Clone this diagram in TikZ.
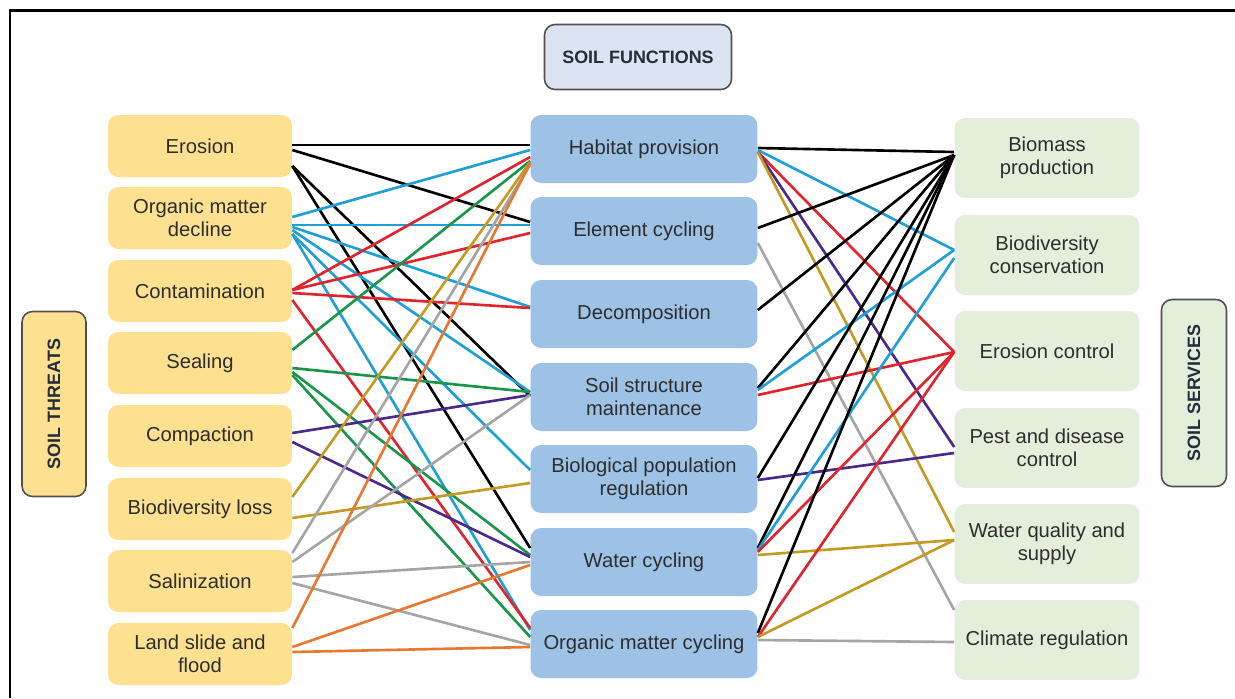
\documentclass[tikz,border=0pt]{standalone}
\usepackage{fontspec}
\setmainfont{Liberation Sans}

\definecolor{threatfill}{RGB}{253,225,145}
\definecolor{funcfill}{RGB}{157,194,230}
\definecolor{servfill}{RGB}{227,239,219}
\definecolor{headfill}{RGB}{220,228,242}
\definecolor{headdraw}{RGB}{80,80,80}
\definecolor{headtext}{RGB}{35,45,62}
\definecolor{boxtext}{RGB}{45,45,45}
\definecolor{lncyan}{RGB}{30,160,215}
\definecolor{lnred}{RGB}{225,35,45}
\definecolor{lngreen}{RGB}{25,150,75}
\definecolor{lnpurple}{RGB}{75,40,140}
\definecolor{lngold}{RGB}{195,155,35}
\definecolor{lngray}{RGB}{165,165,165}
\definecolor{lnorange}{RGB}{230,120,50}

\tikzset{
  box/.style={rounded corners=6pt, align=center, inner sep=2pt, text=boxtext,
    font=\fontsize{11.5}{13}\selectfont},
  threat/.style={box, fill=threatfill, minimum width=3.68cm, minimum height=1.24cm},
  func/.style={box, fill=funcfill, minimum width=4.54cm, minimum height=1.36cm},
  serv/.style={box, fill=servfill, minimum width=3.7cm, minimum height=1.6cm},
  head/.style={draw=headdraw, line width=0.9pt, rounded corners=6pt, text=headtext,
    font=\fontsize{10.2}{12}\selectfont\bfseries},
  link/.style={line width=1.5pt}
}

\begin{document}
\begin{tikzpicture}[x=0.02cm, y=-0.02cm]
\useasboundingbox (0,0) rectangle (1235,698);
\draw [line width=1.7pt] (10,698) -- (10,10) -- (1235,10);

% headings
\node [head, fill=headfill, minimum width=3.74cm, minimum height=1.3cm] (fun) at (638,57) {SOIL FUNCTIONS};
\node [head, fill=threatfill, rotate=90, minimum width=3.7cm, minimum height=1.28cm] (thr) at (54,404) {SOIL THREATS};
\node [head, fill=servfill, rotate=90, minimum width=3.74cm, minimum height=1.3cm] (ser) at (1194,393) {SOIL SERVICES};

% soil threats
\node [threat] (ero) at (200,146) {Erosion};
\node [threat] (omd) at (200,218) {Organic matter\\decline};
\node [threat] (con) at (200,291) {Contamination};
\node [threat] (sea) at (200,363) {Sealing};
\node [threat] (cpt) at (200,436) {Compaction};
\node [threat] (bio) at (200,509) {Biodiversity loss};
\node [threat] (sal) at (200,581) {Salinization};
\node [threat] (lsf) at (200,654) {Land slide and\\flood};

% soil functions
\node [func] (hab) at (644,149) {Habitat provision};
\node [func] (ele) at (644,231) {Element cycling};
\node [func] (dec) at (644,314) {Decomposition};
\node [func] (ssm) at (644,397) {Soil structure\\maintenance};
\node [func] (bpr) at (644,479) {Biological population\\regulation};
\node [func] (wat) at (644,562) {Water cycling};
\node [func] (omc) at (644,644) {Organic matter cycling};

% soil services
\node [serv] (bmp) at (1047,158) {Biomass\\production};
\node [serv] (bdc) at (1047,255) {Biodiversity\\conservation};
\node [serv] (erc) at (1047,351) {Erosion control};
\node [serv] (pdc) at (1047,448) {Pest and disease\\control};
\node [serv] (wqs) at (1047,544) {Water quality and\\supply};
\node [serv] (clr) at (1047,640) {Climate regulation};

% threats -> functions
\foreach \a/\ay/\b/\by/\c in {
  ero/-1/hab/-4/black, ero/4/ele/-9/black, ero/20/ssm/-1/black, ero/20/wat/-14/black,
  omd/-1/hab/1/lncyan, omd/7/ele/-6/lncyan, omd/9/dec/-7/lncyan, omd/12/ssm/-5/lncyan,
  omd/16/bpr/-9/lncyan, omd/16/omc/-14/lncyan,
  con/-1/hab/8/lnred, con/-1/ele/2/lnred, con/2/dec/-6/lnred, con/9/omc/-16/lnred,
  sea/-13/hab/12/lngreen, sea/5/ssm/-5/lngreen, sea/9/wat/-7/lngreen, sea/12/omc/-7/lngreen,
  cpt/-3/ssm/-2/lnpurple, cpt/6/wat/-5/lnpurple,
  bio/-12/hab/13/lngold, bio/9/bpr/4/lngold,
  sal/-28/hab/16/lngray, sal/-19/ssm/-2/lngray, sal/-4/wat/0/lngray, sal/2/omc/1/lngray,
  lsf/-26/hab/14/lnorange, lsf/-7/wat/3/lnorange, lsf/-2/omc/3/lnorange}
  \draw [link, \c] ([shift={(0,\ay)}]\a.east) -- ([shift={(0,\by)}]\b.west);

% functions -> services
\foreach \a/\ay/\b/\by/\c in {
  hab/-1/bmp/-6/black, hab/1/bdc/-5/lncyan, hab/3/erc/1/lnred, hab/3/pdc/-1/lnpurple,
  hab/3/wqs/-12/lngold,
  ele/-3/bmp/-3/black, ele/12/clr/-30/lngray,
  dec/-4/bmp/-3/black,
  ssm/-9/bmp/-3/black, ssm/-7/bdc/-5/lncyan, ssm/-2/erc/1/lnred,
  bpr/-1/bmp/-3/black, bpr/1/pdc/5/lnpurple,
  wat/-14/bmp/-3/black, wat/-12/bdc/3/lncyan, wat/-10/erc/1/lnred, wat/-7/wqs/-4/lngold,
  omc/-11/bmp/-3/black, omc/-7/erc/1/lnred, omc/-7/wqs/-4/lngold, omc/-4/clr/2/lngray}
  \draw [link, \c] ([shift={(0,\ay)}]\a.east) -- ([shift={(0,\by)}]\b.west);
\end{tikzpicture}
\end{document}
